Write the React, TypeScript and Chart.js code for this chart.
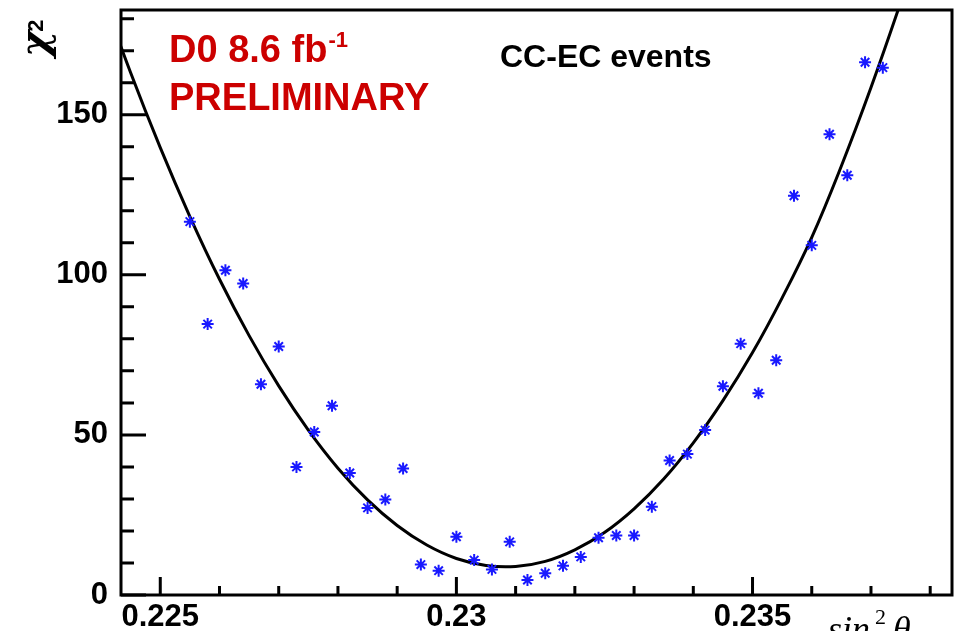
import { useEffect, useRef } from "react";
import { Chart, registerables } from "chart.js";

Chart.register(...registerables);

// Measured chi-square scan points versus sin^2(theta_eff)
const sin2Theta = [
  0.2255, 0.2258, 0.2261, 0.2264, 0.2267, 0.227, 0.2273, 0.2276, 0.2279, 0.2282,
  0.2285, 0.2288, 0.2291, 0.2294, 0.2297, 0.23, 0.2303, 0.2306, 0.2309, 0.2312,
  0.2315, 0.2318, 0.2321, 0.2324, 0.2327, 0.233, 0.2333, 0.2336, 0.2339, 0.2342,
  0.2345, 0.2348, 0.2351, 0.2354, 0.2357, 0.236, 0.2363, 0.2366, 0.2369, 0.2372,
];
const chi2 = [
  116.6, 84.6, 101.4, 97.3, 65.8, 77.6, 40.0, 50.9, 59.1, 38.1,
  27.2, 29.8, 39.5, 9.5, 7.6, 18.2, 10.9, 8.0, 16.6, 4.7,
  6.8, 9.1, 11.9, 17.9, 18.6, 18.6, 27.6, 42.0, 44.0, 51.5,
  65.2, 78.5, 63.0, 73.3, 124.7, 109.2, 143.9, 131.1, 166.4, 164.7,
];

// Fitted parabola, sampled along the scan
const fitX = [
  0.224, 0.2245, 0.225, 0.2255, 0.226, 0.2265, 0.227, 0.2275, 0.228, 0.2285,
  0.229, 0.2295, 0.23, 0.2305, 0.231, 0.2315, 0.232, 0.2325, 0.233, 0.2335,
  0.234, 0.2345, 0.235, 0.2355, 0.236, 0.2365, 0.237, 0.2375, 0.238,
];
const fitChi2 = [
  188.4, 163.1, 139.7, 118.2, 98.6, 81.0, 65.3, 51.5, 39.6, 29.7,
  21.7, 15.6, 11.4, 9.2, 8.9, 10.5, 14.1, 19.5, 26.9, 36.2,
  47.5, 60.7, 75.7, 92.8, 111.7, 134.0, 158.5, 185.0, 213.0,
];

// Axis ranges and tick labels
const X_MIN = 0.224337;
const X_MAX = 0.238368;
const Y_MIN = 0;
const Y_MAX = 182.7;
const xTickLabels = ["0.225", "0.23", "0.235"];
const yTickLabels = ["0", "50", "100", "150"];

const SANS = "'Liberation Sans', Arial, Helvetica, sans-serif";
const SERIF = "'Liberation Serif', 'Times New Roman', serif";

const titleLine1 = "D0 8.6 fb";
const titleLine1Sup = "-1";
const titleLine2 = "PRELIMINARY";
const sampleLabel = "CC-EC events";

// ROOT-style frame with inward-pointing major and minor ticks
const framePlugin = {
  id: "rootFrame",
  afterDatasetsDraw(chart: any) {
    const { ctx, chartArea: a, scales } = chart;
    const xs = scales.x;
    const ys = scales.y;
    ctx.save();
    ctx.strokeStyle = "#000";
    ctx.lineWidth = 3;
    ctx.lineCap = "butt";
    ctx.beginPath();
    for (let i = 0; i * 10 <= Y_MAX; i++) {
      const py = ys.getPixelForValue(i * 10);
      const len = i % 5 === 0 ? 25 : 13;
      ctx.moveTo(a.left, py);
      ctx.lineTo(a.left + len, py);
    }
    for (let i = 224; i <= 239; i++) {
      const v = i / 1000;
      if (v < X_MIN || v > X_MAX) continue;
      const px = xs.getPixelForValue(v);
      const len = i % 5 === 0 ? 18 : 9;
      ctx.moveTo(px, a.bottom);
      ctx.lineTo(px, a.bottom - len);
    }
    ctx.stroke();
    ctx.strokeRect(a.left, a.top, a.right - a.left, a.bottom - a.top);
    ctx.restore();
  },
  afterDraw(chart: any) {
    const { ctx } = chart;
    ctx.save();
    ctx.textAlign = "left";
    ctx.textBaseline = "alphabetic";

    // Experiment label
    ctx.fillStyle = "#cc0000";
    ctx.font = `bold 38px ${SANS}`;
    ctx.fillText(titleLine1, 169, 62);
    const w1 = ctx.measureText(titleLine1).width;
    ctx.font = `bold 22px ${SANS}`;
    ctx.fillText(titleLine1Sup, 169 + w1 + 1, 47);
    ctx.font = `bold 38px ${SANS}`;
    ctx.fillText(titleLine2, 169, 110);

    // Event category
    ctx.fillStyle = "#000";
    ctx.font = `bold 32px ${SANS}`;
    ctx.fillText(sampleLabel, 500, 67);

    // Y axis title, rotated
    ctx.save();
    ctx.translate(48, 57);
    ctx.rotate(-Math.PI / 2);
    ctx.font = `italic bold 40px 'DejaVu Serif', ${SERIF}`;
    ctx.fillText("χ", 0, 0);
    const wc = ctx.measureText("χ").width;
    ctx.font = `bold 22px ${SANS}`;
    ctx.fillText("2", wc - 1, -5);
    ctx.restore();

    // X axis title
    ctx.font = `italic 36px ${SERIF}`;
    ctx.fillText("sin", 828, 641);
    ctx.font = `22px ${SERIF}`;
    ctx.fillText("2", 875, 624);
    ctx.font = `italic 36px ${SERIF}`;
    ctx.fillText("θ", 893, 641);

    ctx.restore();
  },
};

const tickFont = { family: SANS, size: 31, weight: "bold" as const };

export default function App() {
  const ref = useRef<HTMLCanvasElement>(null);

  useEffect(() => {
    const canvas = ref.current;
    if (!canvas) return;
    const chart = new Chart(canvas, {
      type: "scatter",
      data: {
        datasets: [
          {
            type: "line",
            data: fitX.map((x, i) => ({ x, y: fitChi2[i] })),
            borderColor: "#000",
            borderWidth: 3,
            pointRadius: 0,
            tension: 0.4,
            fill: false,
            clip: 0,
            order: 2,
          } as any,
          {
            type: "scatter",
            data: sin2Theta.map((x, i) => ({ x, y: chi2[i] })),
            pointStyle: "star",
            pointRadius: 6,
            borderColor: "rgb(25,25,255)",
            backgroundColor: "rgb(25,25,255)",
            borderWidth: 2,
            order: 1,
          } as any,
        ],
      },
      options: {
        animation: false,
        responsive: false,
        events: [],
        layout: { padding: { left: 0, top: 10, right: 7, bottom: 0 } },
        plugins: {
          legend: { display: false },
          tooltip: { enabled: false },
        },
        scales: {
          x: {
            type: "linear",
            min: X_MIN,
            max: X_MAX,
            grid: { display: false, drawTicks: false },
            border: { display: false },
            ticks: {
              stepSize: 0.005,
              includeBounds: false,
              padding: 4,
              color: "#000",
              font: tickFont,
              maxRotation: 0,
              autoSkip: false,
              callback: (v: any) => {
                const s = parseFloat(Number(v).toFixed(3)).toString();
                return xTickLabels.includes(s) ? s : "";
              },
            },
            afterFit: (s: any) => {
              s.height = 36;
              s.paddingLeft = 0;
              s.paddingRight = 0;
            },
          },
          y: {
            type: "linear",
            min: Y_MIN,
            max: Y_MAX,
            grid: { display: false, drawTicks: false },
            border: { display: false },
            ticks: {
              stepSize: 50,
              includeBounds: false,
              padding: 13,
              color: "#000",
              font: tickFont,
              callback: (v: any) => {
                const s = String(Math.round(Number(v)));
                return yTickLabels.includes(s) ? s : "";
              },
            },
            afterFit: (s: any) => {
              s.width = 121;
              s.paddingTop = 0;
              s.paddingBottom = 0;
            },
          },
        },
      },
      plugins: [framePlugin],
    });
    return () => chart.destroy();
  }, []);

  return (
    <canvas
      ref={ref}
      width={960}
      height={631}
      style={{ position: "fixed", left: 0, top: 0, width: 960, height: 631, background: "#fff" }}
    />
  );
}
